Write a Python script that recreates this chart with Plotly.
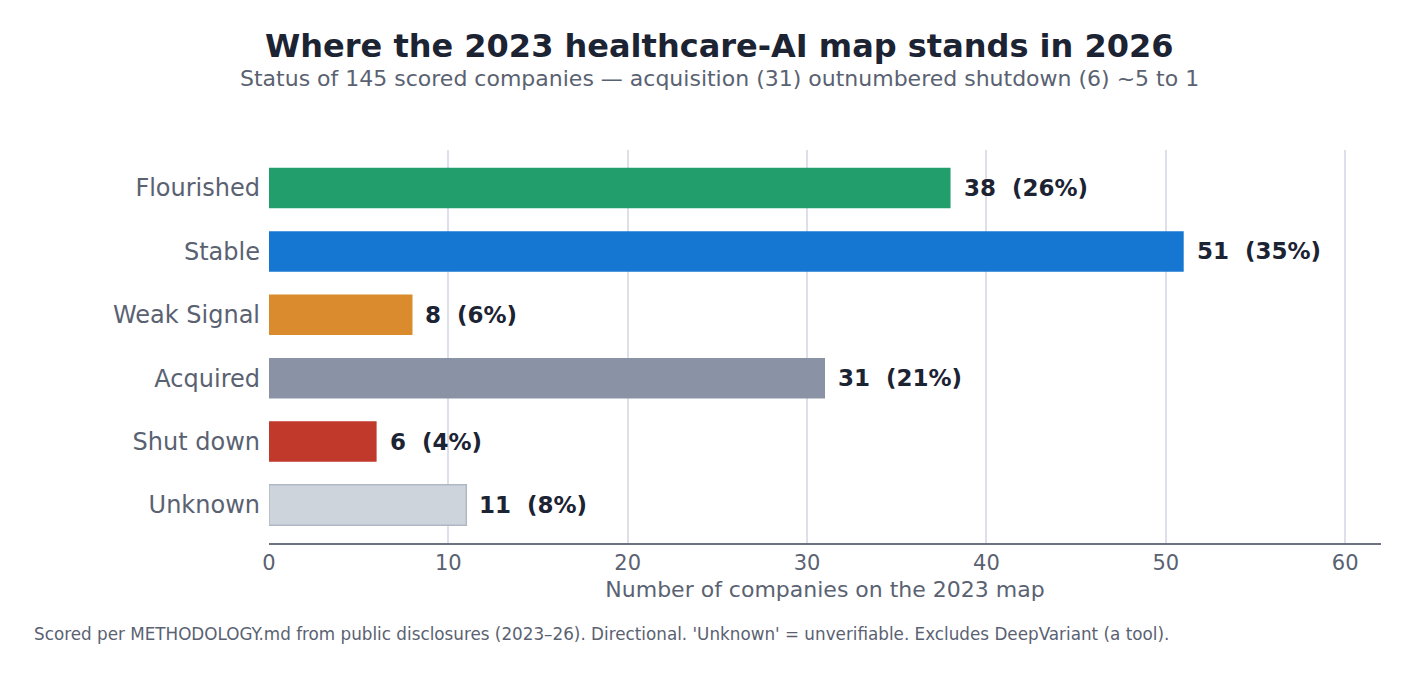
import plotly.graph_objects as go

categories = ["Flourished", "Stable", "Weak Signal", "Acquired", "Shut down", "Unknown"]
counts = [38, 51, 8, 31, 6, 11]
total = 145
colors = ["#219e6b", "#1677d2", "#d98b2d", "#8a93a5", "#c0392b", "#cdd4dc"]
outline_colors = ["#219e6b", "#1677d2", "#d98b2d", "#8a93a5", "#c0392b", "#b0b8c4"]
x_ticks = [0, 10, 20, 30, 40, 50, 60]

FONT = "DejaVu Sans"
labels = [f"{c}  ({round(100 * c / total)}%)" for c in counts]

fig = go.Figure()
fig.add_trace(go.Bar(
    x=counts, y=categories, orientation="h",
    marker=dict(color=colors, line=dict(color=outline_colors, width=[0, 0, 0, 0, 0, 1.5])),
    width=0.64, hoverinfo="skip", showlegend=False,
))
for cat, c, lab in zip(categories, counts, labels):
    fig.add_annotation(x=c, y=cat, text=f"<b>{lab}</b>", showarrow=False,
                       xanchor="left", yanchor="middle", xshift=11,
                       font=dict(family=FONT, size=23, color="#1c2333"))

fig.update_layout(
    width=1412, height=676,
    margin=dict(l=269, r=31, t=150, b=133),
    paper_bgcolor="white", plot_bgcolor="white",
    font=dict(family=FONT),
    xaxis=dict(
        range=[0, 62], tickvals=x_ticks, showgrid=True, gridcolor="#dde0ea", gridwidth=1.5,
        zeroline=False, showline=True, linecolor="#6b7280", linewidth=2,
        tickfont=dict(family=FONT, size=21, color="#5a6272"), ticks="",
        title=dict(text="Number of companies on the 2023 map",
                   font=dict(family=FONT, size=22, color="#5a6272"), standoff=7),
    ),
    yaxis=dict(
        categoryorder="array", categoryarray=categories, autorange=False, range=[5.6, -0.6],
        showgrid=False, zeroline=False, showline=False,
        tickfont=dict(family=FONT, size=24, color="#5a6272"), ticks="", ticklabelstandoff=8,
    ),
)
# title and subtitle
fig.add_annotation(
    text="<b>Where the 2023 healthcare-AI map stands in 2026</b>",
    xref="paper", yref="paper", x=(719 - 269) / 1112, y=1, yshift=104,
    xanchor="center", yanchor="middle", showarrow=False,
    font=dict(family=FONT, size=32, color="#1c2333"),
)
fig.add_annotation(
    text="Status of 145 scored companies — acquisition (31) outnumbered shutdown (6) ~5 to 1",
    xref="paper", yref="paper", x=(719 - 269) / 1112, y=1, yshift=72,
    xanchor="center", yanchor="middle", showarrow=False,
    font=dict(family=FONT, size=22, color="#5a6272"),
)
fig.add_annotation(
    text="Scored per METHODOLOGY.md from public disclosures (2023–26). Directional. 'Unknown' = unverifiable. Excludes DeepVariant (a tool).",
    xref="paper", yref="paper", x=(32 - 269) / 1112, y=0, yshift=-91,
    xanchor="left", yanchor="middle", showarrow=False,
    font=dict(family=FONT, size=16.8, color="#5a6272"),
)
fig.write_html("out.html")
